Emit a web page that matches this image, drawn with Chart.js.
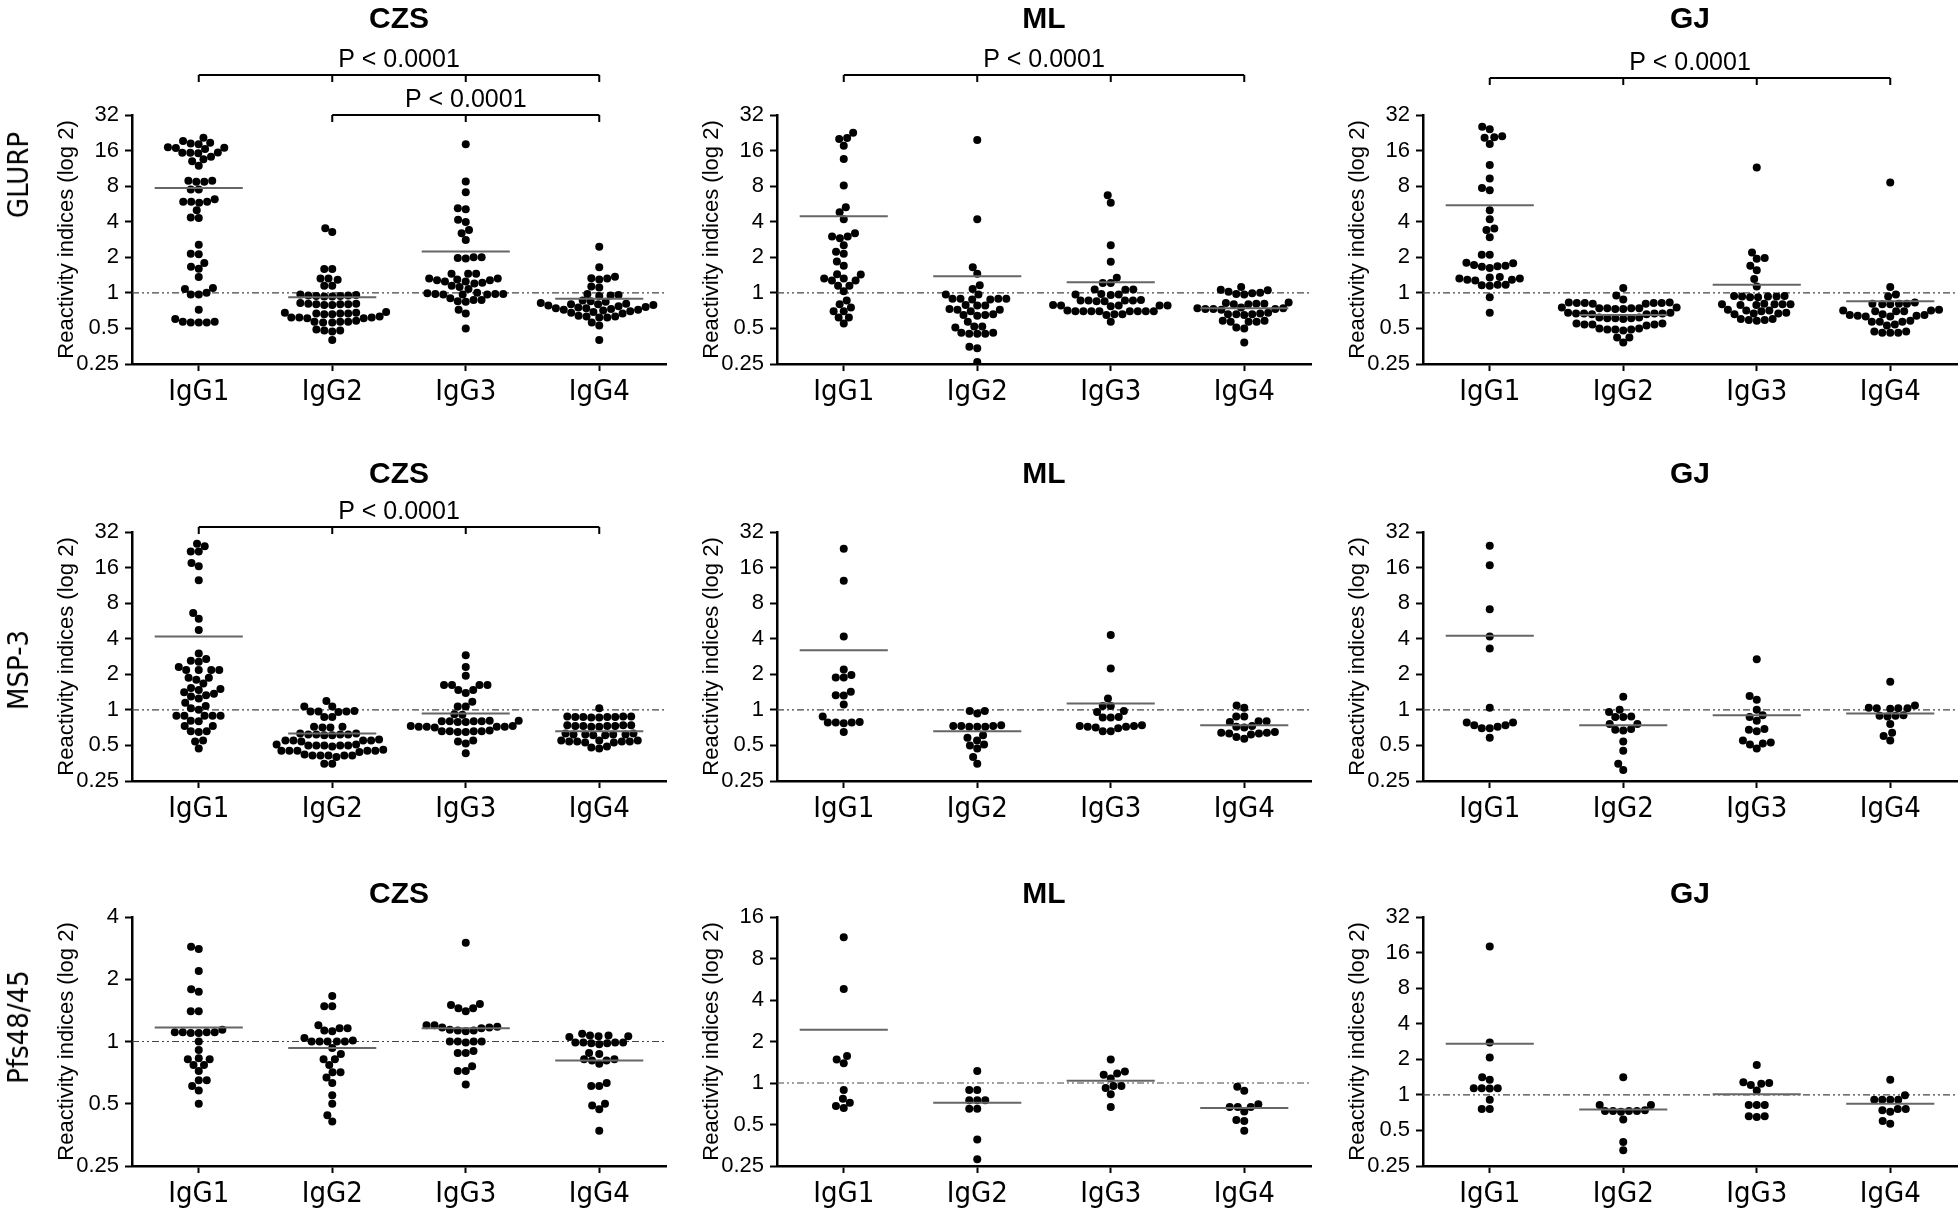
<!DOCTYPE html>
<html>
<head>
<meta charset="utf-8">
<script src="https://cdn.jsdelivr.net/npm/chart.js@4.4.1/dist/chart.umd.min.js"></script>
<style>
  html, body { margin: 0; padding: 0; background: #fff; overflow: hidden; }
  #wrap { position: relative; width: 1960px; height: 1213px; }
  canvas { position: absolute; }
  .rowlabel { position: absolute; white-space: nowrap; font-size: 29px; color: #000;
    font-family: 'Liberation Sans Narrow', 'Arial Narrow', 'DejaVu Sans Condensed', 'Liberation Sans', sans-serif;
    transform: translate(-50%, -50%) rotate(-90deg); }
</style>
</head>
<body>
<div id="wrap"></div>
<script>
// categories, sites, antigens, ticks
var categories = ["IgG1", "IgG2", "IgG3", "IgG4"];
var sites = ["CZS", "ML", "GJ"];
var antigens = ["GLURP", "MSP-3", "Pfs48/45"];
var yTicks = [0.25, 0.5, 1, 2, 4, 8, 16, 32];
var yMaxRow3 = [4, 16, 32];
var pLabel = "P < 0.0001";
// [row, col, from, to]
var comparisons = [[0, 0, 1, 4], [0, 0, 2, 4], [0, 1, 1, 4], [0, 2, 1, 4], [1, 0, 1, 4]];

// GLURP
var glurpCZS = [
  [20.5, 19.3, 18.6, 18.4, 18.1, 17.1, 16.9, 16.8, 16.5, 15.4, 15.3, 15.3, 15.2, 14.2, 13.5, 13.0, 11.9, 8.9, 8.7, 8.7, 8.9, 7.5, 7.5, 5.9, 5.9, 5.8, 5.9, 6.2, 5.0, 4.35, 4.3, 2.55, 2.14, 2.12, 1.79, 1.6, 1.66, 1.36, 1.1, 1.08, 1.0, 0.97, 0.97, 0.72, 0.6, 0.57, 0.56, 0.56, 0.56, 0.57],
  [3.53, 3.27, 1.59, 1.59, 1.32, 1.29, 1.32, 1.15, 1.15, 0.97, 0.95, 0.94, 0.93, 0.93, 0.94, 0.95, 0.96, 0.8, 0.81, 0.79, 0.8, 0.82, 0.8, 0.79, 0.81, 0.67, 0.68, 0.66, 0.67, 0.69, 0.67, 0.66, 0.68, 0.62, 0.61, 0.63, 0.62, 0.61, 0.62, 0.57, 0.56, 0.58, 0.57, 0.56, 0.57, 0.48, 0.49, 0.47, 0.48, 0.4],
  [18.1, 8.75, 7.1, 5.1, 5.2, 4.15, 3.97, 3.2, 3.4, 2.8, 2.0, 1.97, 1.95, 2.0, 1.45, 1.45, 1.45, 1.32, 1.3, 1.28, 1.25, 1.22, 1.2, 1.25, 1.28, 1.32, 1.15, 1.12, 1.0, 0.98, 0.97, 0.97, 0.98, 0.97, 0.98, 0.99, 0.87, 0.85, 0.87, 0.84, 0.72, 0.67, 0.5, 1.08, 0.9],
  [2.45, 1.65, 1.37, 1.33, 1.3, 1.32, 1.11, 1.13, 0.98, 0.96, 0.95, 0.94, 0.82, 0.8, 0.79, 0.78, 0.81, 0.77, 0.76, 0.8, 0.74, 0.73, 0.75, 0.72, 0.74, 0.71, 0.7, 0.72, 0.63, 0.62, 0.64, 0.63, 0.62, 0.56, 0.53, 0.4, 0.85, 0.84, 0.86, 0.68, 0.69, 0.67]
];
var glurpML = [
  [22.6, 20.4, 20.0, 17.6, 13.6, 8.1, 4.8, 5.3, 4.2, 3.0, 2.9, 3.0, 3.2, 2.53, 2.23, 2.14, 1.7, 1.84, 1.44, 1.32, 1.32, 1.43, 1.27, 1.27, 1.15, 1.15, 1.03, 0.86, 0.75, 0.8, 0.7, 0.7, 0.62, 0.62, 0.55],
  [19.7, 4.2, 1.65, 1.45, 1.16, 1.08, 0.97, 0.97, 0.89, 0.89, 0.89, 0.89, 0.88, 0.88, 0.78, 0.78, 0.73, 0.72, 0.72, 0.7, 0.79, 0.65, 0.65, 0.64, 0.66, 0.57, 0.52, 0.52, 0.51, 0.46, 0.45, 0.45, 0.45, 0.46, 0.35, 0.34, 0.26],
  [6.7, 5.8, 2.53, 1.83, 1.34, 1.21, 1.21, 1.07, 1.06, 1.07, 0.97, 0.97, 0.98, 0.96, 0.86, 0.86, 0.85, 0.86, 0.87, 0.86, 0.85, 0.78, 0.78, 0.77, 0.79, 0.78, 0.78, 0.7, 0.7, 0.7, 0.7, 0.7, 0.71, 0.7, 0.7, 0.7, 0.66, 0.65, 0.66, 0.57],
  [1.12, 1.06, 1.05, 1.02, 1.0, 0.99, 0.98, 0.97, 0.82, 0.81, 0.8, 0.81, 0.8, 0.83, 0.74, 0.73, 0.73, 0.72, 0.73, 0.74, 0.75, 0.67, 0.66, 0.65, 0.66, 0.66, 0.68, 0.58, 0.57, 0.57, 0.58, 0.57, 0.51, 0.5, 0.38]
];
var glurpGJ = [
  [25.5, 24.2, 20.7, 20.5, 21.2, 18.2, 12.1, 9.3, 7.4, 7.7, 5.0, 4.2, 3.5, 3.4, 2.95, 2.1, 2.1, 1.78, 1.7, 1.66, 1.62, 1.68, 1.72, 1.8, 1.35, 1.32, 1.29, 1.27, 1.29, 1.32, 1.36, 1.17, 1.15, 1.17, 1.16, 0.92, 0.68],
  [1.1, 0.95, 0.88, 0.82, 0.83, 0.81, 0.82, 0.82, 0.81, 0.83, 0.82, 0.74, 0.75, 0.73, 0.74, 0.74, 0.75, 0.73, 0.74, 0.67, 0.68, 0.66, 0.67, 0.67, 0.66, 0.68, 0.67, 0.61, 0.62, 0.6, 0.61, 0.61, 0.62, 0.54, 0.55, 0.53, 0.54, 0.54, 0.55, 0.49, 0.5, 0.48, 0.49, 0.49, 0.5, 0.42, 0.42, 0.38],
  [11.5, 2.2, 1.97, 1.94, 1.55, 1.7, 1.31, 1.13, 0.93, 0.92, 0.94, 0.93, 0.92, 0.93, 0.94, 0.8, 0.79, 0.8, 0.81, 0.8, 0.79, 0.8, 0.71, 0.7, 0.71, 0.72, 0.67, 0.66, 0.67, 0.68, 0.6, 0.59, 0.58, 0.59, 0.6],
  [8.6, 1.12, 0.97, 0.93, 0.81, 0.8, 0.81, 0.83, 0.81, 0.8, 0.71, 0.7, 0.7, 0.71, 0.7, 0.72, 0.65, 0.64, 0.63, 0.63, 0.64, 0.65, 0.66, 0.57, 0.57, 0.58, 0.57, 0.53, 0.54, 0.47, 0.46, 0.46, 0.46, 0.47]
];
// MSP-3
var mspCZS = [
  [24.3, 25.5, 21.9, 21.9, 17.5, 16.4, 12.5, 6.6, 5.9, 4.75, 3.0, 2.6, 2.55, 2.7, 2.3, 2.17, 2.17, 2.17, 2.17, 1.87, 1.8, 1.87, 1.67, 1.53, 1.5, 1.47, 1.37, 1.41, 1.3, 1.25, 1.33, 1.15, 1.08, 1.03, 1.0, 0.89, 0.89, 0.89, 0.89, 0.89, 0.81, 0.8, 0.73, 0.73, 0.66, 0.65, 0.66, 0.55, 0.54, 0.47],
  [1.19, 1.07, 1.07, 0.97, 0.97, 0.96, 0.97, 0.98, 0.87, 0.87, 0.72, 0.71, 0.71, 0.72, 0.62, 0.63, 0.62, 0.61, 0.62, 0.63, 0.62, 0.61, 0.55, 0.56, 0.55, 0.55, 0.54, 0.55, 0.5, 0.5, 0.51, 0.5, 0.49, 0.5, 0.5, 0.51, 0.45, 0.45, 0.46, 0.45, 0.44, 0.45, 0.45, 0.41, 0.41, 0.4, 0.41, 0.41, 0.42, 0.41, 0.35, 0.35],
  [2.9, 2.3, 1.94, 1.62, 1.62, 1.62, 1.62, 1.47, 1.47, 1.39, 1.17, 1.07, 1.07, 0.92, 0.91, 0.8, 0.79, 0.8, 0.81, 0.8, 0.79, 0.8, 0.81, 0.72, 0.73, 0.72, 0.71, 0.72, 0.73, 0.72, 0.66, 0.65, 0.66, 0.67, 0.66, 0.65, 0.66, 0.54, 0.55, 0.52, 0.43],
  [1.03, 0.87, 0.88, 0.86, 0.87, 0.88, 0.87, 0.86, 0.87, 0.88, 0.73, 0.74, 0.72, 0.73, 0.74, 0.73, 0.72, 0.73, 0.74, 0.62, 0.63, 0.61, 0.62, 0.62, 0.63, 0.61, 0.62, 0.54, 0.55, 0.53, 0.54, 0.54, 0.55, 0.53, 0.54, 0.55, 0.49, 0.47, 0.48]
];
var mspML = [
  [23.1, 12.4, 4.17, 2.2, 1.97, 1.88, 1.88, 1.33, 1.42, 1.32, 1.11, 0.88, 0.78, 0.78, 0.79, 0.77, 0.78, 0.65],
  [0.98, 0.93, 0.98, 0.73, 0.72, 0.72, 0.72, 0.73, 0.73, 0.74, 0.61, 0.55, 0.58, 0.5, 0.51, 0.47, 0.4, 0.35],
  [4.3, 2.24, 1.25, 1.08, 1.08, 0.96, 0.98, 0.86, 0.86, 0.87, 0.73, 0.72, 0.71, 0.7, 0.72, 0.73, 0.74, 0.66, 0.66],
  [1.09, 1.04, 0.88, 0.88, 0.8, 0.8, 0.79, 0.72, 0.73, 0.71, 0.64, 0.64, 0.63, 0.62, 0.63, 0.57, 0.59, 0.65]
];
var mspGJ = [
  [24.5, 16.7, 7.1, 4.17, 3.3, 1.04, 0.78, 0.74, 0.7, 0.72, 0.7, 0.74, 0.78, 0.58],
  [1.29, 0.96, 1.0, 0.87, 0.87, 0.88, 0.76, 0.76, 0.68, 0.69, 0.67, 0.54, 0.45, 0.35, 0.31],
  [2.68, 1.31, 1.22, 1.0, 0.81, 0.87, 0.9, 0.68, 0.66, 0.69, 0.55, 0.52, 0.47, 0.51, 0.53],
  [1.73, 1.09, 1.03, 1.03, 1.02, 1.03, 1.04, 0.89, 0.88, 0.89, 0.9, 0.76, 0.64, 0.6, 0.55]
];
// Pfs48/45
var pfsCZS = [
  [2.87, 2.8, 2.19, 1.79, 1.74, 1.4, 1.4, 1.11, 1.11, 1.1, 1.14, 1.1, 1.11, 1.11, 1.0, 0.91, 0.82, 0.82, 0.83, 0.77, 0.77, 0.72, 0.65, 0.65, 0.61, 0.58, 0.5],
  [1.66, 1.48, 1.48, 1.16, 1.13, 1.12, 1.16, 1.2, 1.0, 1.0, 1.0, 1.0, 1.0, 1.01, 1.04, 0.93, 0.87, 0.82, 0.82, 0.77, 0.71, 0.71, 0.63, 0.67, 0.55, 0.5, 0.44, 0.41],
  [3.0, 1.5, 1.45, 1.4, 1.45, 1.52, 1.2, 1.17, 1.13, 1.13, 1.14, 1.18, 1.12, 1.2, 1.16, 1.17, 1.0, 1.0, 1.0, 1.0, 0.99, 0.9, 0.88, 0.88, 0.76, 0.72, 0.72, 0.62],
  [1.07, 1.07, 1.06, 1.05, 1.06, 1.09, 0.99, 0.98, 0.97, 0.99, 0.98, 0.99, 0.99, 0.87, 0.88, 0.81, 0.78, 0.81, 0.82, 0.82, 0.63, 0.61, 0.61, 0.5, 0.47, 0.49, 0.37]
];
var pfsML = [
  [11.4, 4.8, 1.57, 1.48, 1.39, 0.89, 0.77, 0.72, 0.66, 0.68],
  [1.22, 0.89, 0.89, 0.75, 0.75, 0.75, 0.65, 0.65, 0.39, 0.28],
  [1.48, 1.17, 1.15, 1.21, 1.08, 0.95, 0.92, 0.95, 0.83, 0.67],
  [0.94, 0.88, 0.67, 0.67, 0.67, 0.7, 0.62, 0.54, 0.53, 0.45]
];
var pfsGJ = [
  [18.0, 2.77, 2.07, 1.41, 1.34, 1.14, 1.14, 1.13, 1.14, 0.91, 0.76, 0.76],
  [1.41, 0.82, 0.82, 0.73, 0.73, 0.72, 0.73, 0.74, 0.73, 0.62, 0.4, 0.34],
  [1.79, 1.28, 1.24, 1.21, 1.26, 1.09, 0.82, 0.82, 0.82, 0.66, 0.65, 0.66],
  [1.34, 0.99, 0.91, 0.91, 0.91, 0.91, 0.76, 0.74, 0.72, 0.76, 0.57, 0.6]
];

// group means (horizontal bars)
var glurpMeans = [[7.7, 0.92, 2.24, 0.89], [4.45, 1.38, 1.23, 0.74], [5.5, 0.65, 1.17, 0.85]];
var mspMeans = [[4.17, 0.63, 0.93, 0.66], [3.2, 0.66, 1.13, 0.74], [4.23, 0.74, 0.9, 0.93]];
var pfsMeans = [[1.17, 0.93, 1.16, 0.81], [2.43, 0.72, 1.04, 0.66], [2.71, 0.75, 1.01, 0.84]];

var panelValues = [[glurpCZS, glurpML, glurpGJ], [mspCZS, mspML, mspGJ], [pfsCZS, pfsML, pfsGJ]];
var panelMeans = [glurpMeans, mspMeans, pfsMeans];

// layout
var FONT = "'Liberation Sans', Arial, sans-serif";
var NARROW = "'Liberation Sans Narrow', 'Arial Narrow', 'DejaVu Sans Condensed', 'Liberation Sans', sans-serif";
var colLeft = [0, 645, 1291];
var rowTop = [0, 417, 802];
var titleBase = [-87, -49, -14];
var bracketDy = { "0,0,1": -40, "0,0,2": 0, "0,1,1": -40, "0,2,1": -37, "1,0,1": -5 };
var rowLabelY = [175, 670, 1027];

Chart.defaults.font.family = FONT;
Chart.defaults.color = "#000";

var wrap = document.getElementById("wrap");

function swarmOffsets(pys, D) {
  var placed = [], out = [];
  var order = pys.map(function (y, i) { return i; }).sort(function (a, b) { return pys[b] - pys[a]; });
  order.forEach(function (i) {
    var y = pys[i], iv = [];
    placed.forEach(function (p) {
      var dy = Math.abs(p.y - y);
      if (dy < D) { var w = Math.sqrt(D * D - dy * dy); iv.push([p.x - w, p.x + w]); }
    });
    var cands = [0];
    iv.forEach(function (v) { cands.push(v[0], v[1]); });
    cands.sort(function (a, b) { return Math.abs(a) - Math.abs(b) || a - b; });
    var x = 0;
    for (var k = 0; k < cands.length; k++) {
      var c = cands[k];
      if (iv.every(function (v) { return c <= v[0] + 1e-6 || c >= v[1] - 1e-6; })) { x = c; break; }
    }
    placed.push({ x: x, y: y });
    out[i] = x;
  });
  return out;
}

var decor = {
  id: "decor",
  afterDraw: function (chart, args, o) {
    var ctx = chart.ctx, a = chart.chartArea, xs = chart.scales.x;
    ctx.save();
    ctx.fillStyle = "#000";
    ctx.textAlign = "center";
    ctx.textBaseline = "alphabetic";
    ctx.font = "bold 30px " + FONT;
    ctx.fillText(o.title, (a.left + a.right) / 2, a.top + o.titleBase);
    o.brackets.forEach(function (b) {
      var y = a.top + b.dy;
      var x1 = xs.getPixelForValue(b.from), x2 = xs.getPixelForValue(b.to);
      ctx.strokeStyle = "#000";
      ctx.lineWidth = 2;
      ctx.beginPath();
      ctx.moveTo(x1, y);
      ctx.lineTo(x2, y);
      for (var v = b.from; v <= b.to; v++) {
        var px = xs.getPixelForValue(v);
        ctx.moveTo(px, y);
        ctx.lineTo(px, y + 7);
      }
      ctx.stroke();
      ctx.font = "25px " + FONT;
      ctx.fillText(pLabel, (x1 + x2) / 2, y - 8);
    });
    ctx.restore();
  }
};

function makePanel(r, c) {
  var canvas = document.createElement("canvas");
  canvas.width = 670;
  canvas.height = 410;
  canvas.style.left = colLeft[c] + "px";
  canvas.style.top = rowTop[r] + "px";
  wrap.appendChild(canvas);

  var groups = panelValues[r][c];
  var means = panelMeans[r][c];
  var yMax = r === 2 ? yMaxRow3[c] : 32;

  var datasets = [];
  means.forEach(function (m, i) {
    datasets.push({ type: "line", data: [{ x: i + 1 - 0.33, y: m }, { x: i + 1 + 0.33, y: m }],
      borderColor: "#666", borderWidth: 2, pointRadius: 0, order: 0 });
  });
  groups.forEach(function (vals, i) {
    datasets.push({ type: "scatter", data: vals.map(function (v) { return { x: i + 1, y: v }; }),
      pointRadius: 4, pointBackgroundColor: "#000", pointBorderWidth: 0, order: 1 });
  });
  datasets.push({ type: "line", data: [{ x: 0.5, y: 1 }, { x: 4.5, y: 1 }],
    borderColor: "#444", borderWidth: 1.2, borderDash: [7, 3, 2, 3, 2, 3], pointRadius: 0, order: 2 });

  var brackets = comparisons.filter(function (cp) { return cp[0] === r && cp[1] === c; })
    .map(function (cp) { return { from: cp[2], to: cp[3], dy: bracketDy[cp[0] + "," + cp[1] + "," + cp[2]] }; });

  var chart = new Chart(canvas.getContext("2d"), {
    type: "scatter",
    data: { datasets: datasets },
    options: {
      responsive: false,
      animation: false,
      events: [],
      layout: { padding: { left: 0, right: 3, top: 115, bottom: 0 } },
      plugins: {
        legend: { display: false },
        tooltip: { enabled: false },
        decor: { title: sites[c], titleBase: titleBase[r], brackets: brackets }
      },
      scales: {
        x: {
          type: "linear", min: 0.5, max: 4.5,
          afterBuildTicks: function (s) { s.ticks = categories.map(function (n, i) { return { value: i + 1 }; }); },
          afterFit: function (s) { s.height = 46; },
          ticks: { callback: function (v) { return categories[v - 1]; }, font: { size: 29, family: NARROW },
            color: "#000", padding: 4, maxRotation: 0, autoSkip: false },
          grid: { drawOnChartArea: false, tickLength: 7, tickWidth: 2, tickColor: "#000" },
          border: { color: "#000", width: 2.5 }
        },
        y: {
          type: "logarithmic", min: 0.25, max: yMax,
          afterBuildTicks: function (s) { s.ticks = yTicks.filter(function (t) { return t <= yMax; }).map(function (t) { return { value: t }; }); },
          afterFit: function (s) { s.width = 132; },
          ticks: { callback: function (v) { return String(v); }, font: { size: 22 }, color: "#000", padding: 6, autoSkip: false },
          grid: { drawOnChartArea: false, tickLength: 7, tickWidth: 2, tickColor: "#000" },
          border: { color: "#000", width: 2.5 },
          title: { display: true, text: "Reactivity indices (log 2)", font: { size: 22 }, color: "#000", padding: { top: 54, bottom: 0 } }
        }
      }
    },
    plugins: [decor]
  });

  // beeswarm spread of the dots, in pixel space
  var xs = chart.scales.x, ys = chart.scales.y;
  var unit = xs.getPixelForValue(2) - xs.getPixelForValue(1);
  chart.data.datasets.forEach(function (ds) {
    if (ds.type !== "scatter") return;
    var pys = ds.data.map(function (p) { return ys.getPixelForValue(p.y); });
    var offs = swarmOffsets(pys, 8.0);
    ds.data.forEach(function (p, k) { p.x = p.x + offs[k] / unit; });
  });
  chart.update("none");
}

for (var r = 0; r < 3; r++) {
  for (var c = 0; c < 3; c++) makePanel(r, c);
  var lab = document.createElement("div");
  lab.className = "rowlabel";
  lab.textContent = antigens[r];
  lab.style.left = "18px";
  lab.style.top = rowLabelY[r] + "px";
  wrap.appendChild(lab);
}
</script>
</body>
</html>
